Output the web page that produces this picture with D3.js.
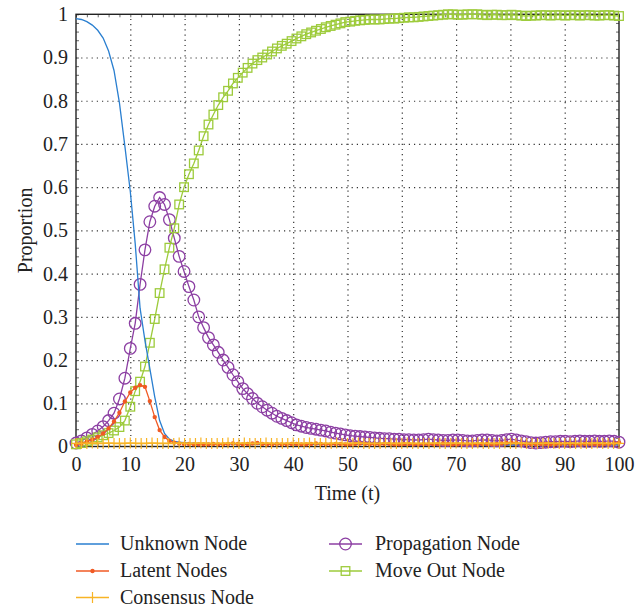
<!DOCTYPE html>
<html>
<head>
<meta charset="utf-8">
<title>Node proportions over time</title>
<style>
  body { margin: 0; background: #fff; }
</style>
</head>
<body>
<svg id="chart" width="643" height="610"></svg>
<script src="https://d3js.org/d3.v7.min.js"></script>
<script>
// sample times shared by the four ODE-style series
const time = [
  0, 1, 2, 3, 4, 5, 6, 7, 8, 9,
  10, 10.9, 11.8, 12.7, 13.6, 14.5, 15.4, 16.3, 17.2, 18.1,
  19, 19.9, 20.8, 21.7, 22.6, 23.5, 24.4, 25.3, 26.2, 27.1,
  28, 28.9, 29.8, 30.7, 31.6, 32.5, 33.4, 34.3, 35.2, 36.1,
  37, 37.9, 38.8, 39.7, 40.6, 41.5, 42.4, 43.3, 44.2, 45.1,
  46, 46.9, 47.8, 48.7, 49.6, 50.5, 51.4, 52.3, 53.2, 54.1,
  55, 55.9, 56.8, 57.7, 58.6, 59.5, 60.4, 61.3, 62.2, 63.1,
  64, 64.9, 65.8, 66.7, 67.6, 68.5, 69.4, 70.3, 71.2, 72.1,
  73, 73.9, 74.8, 75.7, 76.6, 77.5, 78.4, 79.3, 80.2, 81.1,
  82, 82.9, 83.8, 84.7, 85.6, 86.5, 87.4, 88.3, 89.2, 90.1,
  91, 91.9, 92.8, 93.7, 94.6, 95.5, 96.4, 97.3, 98.2, 99.1,
  100
];

const unknown = [
  0.99, 0.988, 0.983, 0.975, 0.963, 0.945, 0.915, 0.87, 0.795, 0.695,
  0.59, 0.47, 0.32, 0.245, 0.18, 0.115, 0.06, 0.03, 0.017, 0.012,
  0.01, 0.009, 0.008, 0.008, 0.007, 0.007, 0.007, 0.006, 0.006, 0.006,
  0.006, 0.006, 0.005, 0.005, 0.005, 0.005, 0.005, 0.005, 0.005, 0.005,
  0.005, 0.005, 0.005, 0.005, 0.005, 0.005, 0.005, 0.005, 0.005, 0.005,
  0.005, 0.005, 0.005, 0.005, 0.005, 0.005, 0.005, 0.005, 0.005, 0.005,
  0.005, 0.005, 0.005, 0.005, 0.005, 0.005, 0.005, 0.005, 0.005, 0.005,
  0.005, 0.005, 0.005, 0.005, 0.005, 0.005, 0.005, 0.005, 0.005, 0.005,
  0.004, 0.004, 0.004, 0.004, 0.004, 0.004, 0.004, 0.004, 0.004, 0.004,
  0.004, 0.004, 0.004, 0.004, 0.004, 0.004, 0.004, 0.004, 0.004, 0.004,
  0.004, 0.004, 0.004, 0.004, 0.004, 0.004, 0.004, 0.004, 0.004, 0.004,
  0.004
];

const latent = [
  0.004, 0.007, 0.011, 0.016, 0.022, 0.03, 0.042, 0.058, 0.078, 0.104,
  0.125, 0.136, 0.142, 0.138, 0.105, 0.068, 0.038, 0.022, 0.013, 0.009,
  0.007, 0.006, 0.006, 0.005, 0.005, 0.005, 0.005, 0.006, 0.005, 0.005,
  0.006, 0.007, 0.006, 0.005, 0.006, 0.007, 0.008, 0.006, 0.005, 0.005,
  0.006, 0.005, 0.005, 0.006, 0.006, 0.005, 0.005, 0.006, 0.007, 0.006,
  0.005, 0.005, 0.006, 0.006, 0.005, 0.005, 0.006, 0.007, 0.006, 0.005,
  0.005, 0.005, 0.006, 0.006, 0.005, 0.005, 0.006, 0.006, 0.005, 0.005,
  0.006, 0.005, 0.005, 0.006, 0.007, 0.006, 0.005, 0.005, 0.006, 0.006,
  0.005, 0.005, 0.006, 0.006, 0.005, 0.006, 0.007, 0.008, 0.009, 0.008,
  0.006, 0.005, 0.005, 0.005, 0.006, 0.006, 0.005, 0.005, 0.006, 0.006,
  0.006, 0.005, 0.005, 0.006, 0.006, 0.006, 0.005, 0.006, 0.006, 0.007,
  0.009
];

const propagation = [
  0.008, 0.013, 0.02, 0.028, 0.036, 0.046, 0.06, 0.077, 0.11, 0.158,
  0.227, 0.285, 0.375, 0.455, 0.52, 0.556, 0.576, 0.56, 0.525, 0.482,
  0.44, 0.405, 0.37, 0.339, 0.3, 0.275, 0.252, 0.235, 0.218, 0.2,
  0.183, 0.166, 0.15, 0.134, 0.122, 0.111, 0.1, 0.092, 0.084, 0.077,
  0.07, 0.065, 0.06, 0.055, 0.05, 0.047, 0.044, 0.042, 0.04, 0.038,
  0.036, 0.033, 0.031, 0.029, 0.027, 0.025, 0.024, 0.023, 0.022, 0.021,
  0.02, 0.019, 0.018, 0.018, 0.017, 0.017, 0.016, 0.016, 0.015, 0.015,
  0.016, 0.017, 0.016, 0.015, 0.014, 0.014, 0.015, 0.015, 0.014, 0.013,
  0.013, 0.014, 0.015, 0.015, 0.014, 0.013, 0.014, 0.016, 0.017, 0.015,
  0.013, 0.011, 0.009, 0.008, 0.009, 0.01, 0.011, 0.011, 0.012, 0.012,
  0.011, 0.012, 0.013, 0.012, 0.012, 0.013, 0.012, 0.012, 0.013, 0.012,
  0.01
];

const moveOut = [
  0.005, 0.008, 0.012, 0.016, 0.021, 0.026, 0.031, 0.037, 0.045, 0.06,
  0.092, 0.128, 0.15, 0.185, 0.24, 0.295, 0.355, 0.41, 0.46, 0.505,
  0.56, 0.6, 0.63, 0.655, 0.685, 0.718, 0.745, 0.768, 0.79, 0.808,
  0.823, 0.84, 0.853, 0.865, 0.876, 0.886, 0.894, 0.9, 0.907, 0.914,
  0.921, 0.927, 0.932, 0.938, 0.944, 0.949, 0.954, 0.958, 0.962, 0.966,
  0.97, 0.973, 0.976, 0.979, 0.982, 0.983, 0.985, 0.986, 0.987, 0.988,
  0.988, 0.988, 0.989, 0.99, 0.99, 0.991, 0.992, 0.993, 0.993, 0.994,
  0.995, 0.996, 0.997, 0.998, 0.999, 1.0, 1.0, 0.999, 0.999, 1.0,
  1.0, 1.0, 0.999, 0.998, 0.999, 0.999, 0.998, 0.998, 0.999, 0.998,
  0.997, 0.996, 0.997, 0.997, 0.998, 0.998, 0.997, 0.998, 0.998, 0.997,
  0.998, 0.998, 0.997, 0.998, 0.998, 0.997, 0.997, 0.998, 0.998, 0.997,
  0.996
];

// consensus node is sampled once per time unit
const consensusTime = [
  0, 1, 2, 3, 4, 5, 6, 7, 8, 9, 10, 11, 12, 13, 14, 15, 16, 17, 18, 19,
  20, 21, 22, 23, 24, 25, 26, 27, 28, 29, 30, 31, 32, 33, 34, 35, 36, 37, 38, 39,
  40, 41, 42, 43, 44, 45, 46, 47, 48, 49, 50, 51, 52, 53, 54, 55, 56, 57, 58, 59,
  60, 61, 62, 63, 64, 65, 66, 67, 68, 69, 70, 71, 72, 73, 74, 75, 76, 77, 78, 79,
  80, 81, 82, 83, 84, 85, 86, 87, 88, 89, 90, 91, 92, 93, 94, 95, 96, 97, 98, 99,
  100
];
const consensus = [
  0.007, 0.007, 0.007, 0.008, 0.007, 0.007, 0.008, 0.007, 0.007, 0.007,
  0.008, 0.007, 0.007, 0.007, 0.008, 0.007, 0.007, 0.007, 0.007, 0.008,
  0.007, 0.007, 0.007, 0.008, 0.007, 0.007, 0.007, 0.007, 0.008, 0.007,
  0.007, 0.008, 0.007, 0.007, 0.007, 0.008, 0.007, 0.007, 0.007, 0.007,
  0.008, 0.007, 0.007, 0.008, 0.007, 0.007, 0.007, 0.007, 0.008, 0.007,
  0.007, 0.007, 0.008, 0.007, 0.007, 0.007, 0.007, 0.008, 0.007, 0.007,
  0.007, 0.008, 0.007, 0.007, 0.007, 0.007, 0.008, 0.007, 0.007, 0.007,
  0.008, 0.007, 0.007, 0.007, 0.008, 0.007, 0.007, 0.007, 0.007, 0.008,
  0.007, 0.007, 0.008, 0.007, 0.007, 0.007, 0.007, 0.008, 0.007, 0.007,
  0.007, 0.008, 0.007, 0.007, 0.007, 0.007, 0.008, 0.007, 0.007, 0.007,
  0.007
];

const xTicks = [0, 10, 20, 30, 40, 50, 60, 70, 80, 90, 100];
const yTicks = [0, 0.1, 0.2, 0.3, 0.4, 0.5, 0.6, 0.7, 0.8, 0.9, 1];

const series = [
  {name: "Unknown Node", t: time, v: unknown, color: "#2a7fd0", marker: "none"},
  {name: "Latent Nodes", t: time, v: latent, color: "#f05a24", marker: "dot"},
  {name: "Consensus Node", t: consensusTime, v: consensus, color: "#f8b425", marker: "plus"},
  {name: "Propagation Node", t: time, v: propagation, color: "#8c3fa3", marker: "circle"},
  {name: "Move Out Node", t: time, v: moveOut, color: "#9dcb3b", marker: "square"}
];
// drawing order (back to front)
const drawOrder = [3, 4, 0, 1, 2];

const serif = '"Liberation Serif", "Times New Roman", "DejaVu Serif", serif';
const fontSize = 20;
const svg = d3.select('#chart').attr('font-family', serif);
const x = d3.scaleLinear().domain([0, 100]).range([76, 619]);
const y = d3.scaleLinear().domain([0, 1]).range([446.5, 14.3]);
const plotW = x(100) - x(0), plotH = y(0) - y(1);

// dotted grid
svg.append('g')
    .attr('transform', 'translate(0,' + y(0) + ')')
    .call(d3.axisBottom(x).tickValues(xTicks.slice(1, -1)).tickSize(-plotH).tickFormat(''))
    .call(g => g.select('.domain').remove())
    .selectAll('line').attr('stroke', '#333').attr('stroke-width', 1.2).attr('stroke-dasharray', '1.2,4');
svg.append('g')
    .attr('transform', 'translate(' + x(0) + ',0)')
    .call(d3.axisLeft(y).tickValues(yTicks.slice(1, -1)).tickSize(-plotW).tickFormat(''))
    .call(g => g.select('.domain').remove())
    .selectAll('line').attr('stroke', '#333').attr('stroke-width', 1.2).attr('stroke-dasharray', '1.2,4');

// inward minor ticks on all four sides
const minorX = d3.range(0, 101, 2), minorY = d3.range(0, 1.001, 0.02);
function minor(g) {
    g.select('.domain').remove();
    g.selectAll('line').attr('stroke', '#666').attr('stroke-width', 1);
}
svg.append('g').attr('transform', 'translate(0,' + y(0) + ')')
    .call(d3.axisBottom(x).tickValues(minorX).tickSize(-3).tickFormat('')).call(minor);
svg.append('g').attr('transform', 'translate(0,' + y(1) + ')')
    .call(d3.axisTop(x).tickValues(minorX).tickSize(-3).tickFormat('')).call(minor);
svg.append('g').attr('transform', 'translate(' + x(0) + ',0)')
    .call(d3.axisLeft(y).tickValues(minorY).tickSize(-3).tickFormat('')).call(minor);
svg.append('g').attr('transform', 'translate(' + x(100) + ',0)')
    .call(d3.axisRight(y).tickValues(minorY).tickSize(-3).tickFormat('')).call(minor);

// frame
svg.append('rect')
    .attr('x', x(0)).attr('y', y(1)).attr('width', plotW).attr('height', plotH)
    .attr('fill', 'none').attr('stroke', '#222').attr('stroke-width', 1.4);

// tick labels
svg.append('g')
    .attr('transform', 'translate(0,' + y(0) + ')')
    .call(d3.axisBottom(x).tickValues(xTicks).tickFormat(d => String(d)).tickSize(0).tickPadding(10))
    .call(g => g.select('.domain').remove())
    .attr('font-family', serif).attr('font-size', fontSize)
    .selectAll('text').attr('fill', '#222');
svg.append('g')
    .attr('transform', 'translate(' + x(0) + ',0)')
    .call(d3.axisLeft(y).tickValues(yTicks).tickFormat(d => String(d)).tickSize(0).tickPadding(8))
    .call(g => g.select('.domain').remove())
    .attr('font-family', serif).attr('font-size', fontSize)
    .selectAll('text').attr('fill', '#222');

svg.append('text')
    .attr('x', (x(0) + x(100)) / 2).attr('y', 500)
    .attr('text-anchor', 'middle').attr('font-size', fontSize).attr('fill', '#222')
    .text('Time (t)');
svg.append('text')
    .attr('transform', 'translate(32,' + (y(0) + y(1)) / 2 + ')rotate(-90)')
    .attr('text-anchor', 'middle').attr('font-size', fontSize).attr('fill', '#222')
    .text('Proportion');

function drawMarker(g, kind, color) {
    if (kind === 'dot') {
        g.append('circle').attr('r', 2.2).attr('fill', color);
    } else if (kind === 'plus') {
        g.append('path').attr('d', 'M0,-5.5V5.5M-5,0H5')
            .attr('stroke', color).attr('stroke-width', 1.2).attr('fill', 'none');
    } else if (kind === 'circle') {
        g.append('circle').attr('r', 5.8).attr('fill', 'none')
            .attr('stroke', color).attr('stroke-width', 1.3);
    } else if (kind === 'square') {
        g.append('rect').attr('x', -4.3).attr('y', -4.3).attr('width', 8.6).attr('height', 8.6)
            .attr('fill', 'none').attr('stroke', color).attr('stroke-width', 1.3);
    }
}

const line = d3.line().x(d => x(d[0])).y(d => y(d[1]));

drawOrder.forEach(function(k) {
    const s = series[k];
    const pts = s.t.map((t, i) => [t, s.v[i]]);
    const g = svg.append('g');
    g.append('path').datum(pts)
        .attr('d', line)
        .attr('fill', 'none')
        .attr('stroke', s.color)
        .attr('stroke-width', 1.3);
    if (s.marker !== 'none') {
        g.selectAll('g.m').data(pts).enter().append('g')
            .attr('class', 'm')
            .attr('transform', d => 'translate(' + x(d[0]) + ',' + y(d[1]) + ')')
            .each(function() { drawMarker(d3.select(this), s.marker, s.color); });
    }
});

// legend: two columns, column-major order
const legendCols = [[76, 120], [329, 375]];
const legendRows = [544, 571, 597.5];
series.forEach(function(s, i) {
    const col = legendCols[i < 3 ? 0 : 1];
    const rowY = legendRows[i < 3 ? i : i - 3];
    const g = svg.append('g');
    g.append('line')
        .attr('x1', col[0]).attr('x2', col[0] + 33)
        .attr('y1', rowY).attr('y2', rowY)
        .attr('stroke', s.color).attr('stroke-width', 1.3);
    const m = g.append('g').attr('transform', 'translate(' + (col[0] + 16.5) + ',' + rowY + ')');
    drawMarker(m, s.marker, s.color);
    g.append('text')
        .attr('x', col[1]).attr('y', rowY + 6)
        .attr('font-size', fontSize).attr('fill', '#222')
        .text(s.name);
});
</script>
</body>
</html>
